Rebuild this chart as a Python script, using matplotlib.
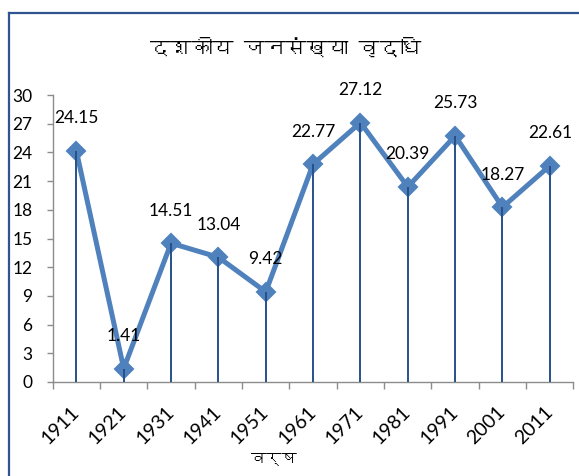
import matplotlib
matplotlib.use("Agg")
import matplotlib.pyplot as plt
from matplotlib import font_manager
from matplotlib.ft2font import FT2Font
from matplotlib.lines import Line2D

years = ['1911', '1921', '1931', '1941', '1951', '1961', '1971', '1981', '1991', '2001', '2011']
growth = [24.15, 1.41, 14.51, 13.04, 9.42, 22.77, 27.12, 20.39, 25.73, 18.27, 22.61]
yticks = [0, 3, 6, 9, 12, 15, 18, 21, 24, 27, 30]
title = 'दशकीय जनसंख्या वृद्धि'
xlabel = 'वर्ष'


def find_devanagari_font():
    # look for any installed font that has Devanagari glyphs
    for f in font_manager.fontManager.ttflist:
        try:
            if 0x0926 in FT2Font(f.fname).get_charmap():
                return f.name
        except Exception:
            pass
    return None


dev_font = find_devanagari_font()
hindi_family = [dev_font, 'DejaVu Sans'] if dev_font else ['DejaVu Sans']

plt.rcParams['font.family'] = ['Lato', 'DejaVu Sans']

W, H = 579, 476
fig = plt.figure(figsize=(W / 100, H / 100), dpi=100)
ax = fig.add_axes([52.7 / W, (H - 382) / H, (573.5 - 52.7) / W, (382 - 95) / H])

x = list(range(len(years)))
line_blue = '#4F81BD'
drop_blue = '#27508A'
axis_gray = '#8C8C8C'

ax.plot(x, growth, color=line_blue, lw=3.6, marker='D', ms=9.5,
        mfc=line_blue, mec=line_blue, mew=1.5, zorder=3, clip_on=False)
ax.vlines(x, 0, growth, color=drop_blue, lw=1.4, zorder=4)

# value labels centred above each point
for i, v in enumerate(growth):
    ax.annotate('%.2f' % v, (i, v), xytext=(0, 23.5), textcoords='offset points',
                ha='center', va='center', fontsize=12.5, color='black', zorder=5)

ax.set_xlim(-0.5, len(years) - 0.5)
ax.set_ylim(0, 30)
ax.set_yticks(yticks)
ax.set_yticklabels([str(t) for t in yticks], fontsize=12.5)
ax.set_xticks(x)
ax.set_xticklabels(years, fontsize=14, rotation=45, ha='right', va='center',
                   rotation_mode='anchor')
ax.set_xticks([i - 0.5 for i in range(len(years) + 1)], minor=True)
ax.tick_params(axis='x', which='major', length=0, pad=19.5)
ax.tick_params(axis='x', which='minor', length=5, color=axis_gray, width=1)
ax.tick_params(axis='y', length=4.5, color=axis_gray, width=1, pad=10)

for s in ['top', 'right']:
    ax.spines[s].set_visible(False)
for s in ['left', 'bottom']:
    ax.spines[s].set_color(axis_gray)
    ax.spines[s].set_linewidth(1)

fig.text(286 / W, 1 - 48 / H, title, ha='center', va='center', fontsize=15,
         family=hindi_family)
fig.text(274 / W, 1 - 460 / H, xlabel, ha='center', va='center', fontsize=11,
         family=hindi_family)

# chart area border (runs off the right and bottom of the image)
border = '#2E5591'
fig.add_artist(Line2D([8.5 / W, 8.5 / W], [0, 1 - 12.5 / H], color=border, lw=1.6,
                      transform=fig.transFigure))
fig.add_artist(Line2D([8.5 / W, 1], [1 - 12.5 / H, 1 - 12.5 / H], color=border, lw=1.6,
                      transform=fig.transFigure))

fig.savefig('out.png', dpi=100)
